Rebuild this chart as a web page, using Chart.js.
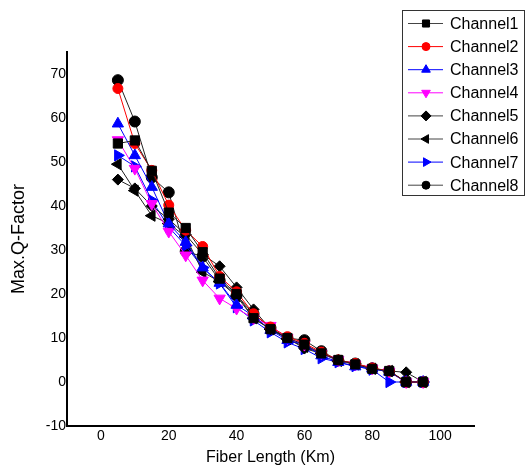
<!DOCTYPE html>
<html>
<head>
<meta charset="utf-8">
<script src="https://cdn.jsdelivr.net/npm/chart.js@4/dist/chart.umd.min.js"></script>
<style>
  html, body { margin: 0; padding: 0; background: #fff; }
  #wrap { width: 526px; height: 467px; }
</style>
</head>
<body>
<div id="wrap"><canvas id="c" width="526" height="467"></canvas></div>
<script>
const fiberLength = [5, 10, 15, 20, 25, 30, 35, 40, 45, 50, 55, 60, 65, 70, 75, 80, 85, 90, 95];
const channel1 = [54.2, 54.9, 48.0, 38.5, 35.0, 29.5, 23.5, 20.0, 14.5, 12.0, 10.0, 8.5, 6.5, 5.0, 4.0, 3.0, 2.5, 0.0, 0.0];
const channel2 = [66.7, 54.2, 48.1, 40.2, 34.5, 30.8, 24.0, 20.5, 15.5, 12.5, 10.3, 8.8, 6.8, 5.0, 4.2, 3.2, 2.5, 0.0, 0.0];
const channel3 = [58.7, 51.5, 44.3, 36.0, 31.8, 26.0, 22.5, 17.5, 15.0, 11.8, 9.5, 8.5, 6.0, 4.5, 3.5, 3.0, 2.3, 0.0, 0.0];
const channel4 = [55.0, 48.5, 40.5, 34.2, 28.8, 23.1, 19.0, 16.7, 14.5, 12.8, 10.0, 8.5, 6.5, 5.0, 4.0, 3.1, 2.4, 0.0, 0.0];
const channel5 = [46.0, 44.0, 40.0, 37.0, 33.5, 29.0, 26.3, 21.5, 16.5, 12.0, 10.0, 7.6, 6.5, 5.0, 4.2, 3.0, 2.5, 2.2, 0.0];
const channel6 = [49.5, 43.5, 37.8, 36.0, 33.0, 25.0, 22.8, 19.5, 14.5, 12.0, 9.8, 8.0, 6.5, 4.8, 4.0, 3.0, 2.5, 0.0, 0.0];
const channel7 = [51.5, 49.0, 41.3, 35.2, 31.0, 26.0, 22.4, 17.0, 14.0, 11.3, 9.0, 7.5, 5.4, 4.5, 3.6, 2.8, 0.0, 0.0, 0.0];
const channel8 = [68.6, 59.2, 46.5, 43.1, 29.7, 28.5, 23.1, 19.7, 15.5, 12.3, 10.0, 9.5, 7.0, 4.9, 4.2, 3.1, 2.4, 0.0, 0.0];
const seriesNames = ['Channel1','Channel2','Channel3','Channel4','Channel5','Channel6','Channel7','Channel8'];
const xTicks = [0, 20, 40, 60, 80, 100];
const yTicks = [-10, 0, 10, 20, 30, 40, 50, 60, 70];

const seriesData = [channel1, channel2, channel3, channel4, channel5, channel6, channel7, channel8];
const colors = ['#000000', '#ff0000', '#0000ff', '#ff00ff', '#000000', '#000000', '#0000ff', '#000000'];
const lineColors = ['#222222', '#ff0000', '#0000ff', '#ff00ff', '#222222', '#222222', '#0000ff', '#222222'];
const styles = ['rect', 'circle', 'triangle', 'triangle', 'rectRot', 'triangle', 'triangle', 'circle'];
const rotations = [0, 0, 0, 180, 0, -90, 90, 0];
const radii = [6.5, 5, 6.5, 6.5, 5.5, 6.5, 6.5, 5.5];

const datasets = seriesNames.map((name, i) => ({
  label: name,
  data: fiberLength.map((x, j) => ({x: x, y: seriesData[i][j]})),
  borderColor: lineColors[i],
  backgroundColor: colors[i],
  pointBackgroundColor: colors[i],
  pointBorderColor: colors[i],
  pointStyle: styles[i],
  pointRotation: rotations[i],
  pointRadius: radii[i],
  pointBorderWidth: 1,
  borderWidth: 1,
  tension: 0,
  fill: false
}));

const FONT = '"Liberation Sans", Arial, sans-serif';

const boxLegend = {
  id: 'boxLegend',
  afterDraw(chart) {
    const ctx = chart.ctx;
    const bx = 402.5, by = 10.5, bw = 122, bh = 185;
    ctx.save();
    ctx.fillStyle = '#fff';
    ctx.fillRect(bx, by, bw, bh);
    ctx.strokeStyle = '#333';
    ctx.lineWidth = 1;
    ctx.strokeRect(bx, by, bw, bh);
    ctx.font = '16px ' + FONT;
    ctx.textBaseline = 'middle';
    ctx.textAlign = 'left';
    chart.data.datasets.forEach((ds, i) => {
      const y = 23.5 + i * 23.1;
      ctx.strokeStyle = ds.borderColor === '#222222' ? '#444' : ds.borderColor;
      ctx.lineWidth = 1;
      ctx.beginPath();
      ctx.moveTo(408, y);
      ctx.lineTo(443, y);
      ctx.stroke();
      ctx.fillStyle = ds.pointBackgroundColor;
      ctx.strokeStyle = ds.pointBorderColor;
      Chart.helpers.drawPoint(ctx, {
        pointStyle: ds.pointStyle,
        rotation: ds.pointRotation,
        radius: ds.pointStyle === 'circle' ? 4 : 5,
        borderWidth: 1
      }, 426, y);
      ctx.fillStyle = '#000';
      ctx.fillText(ds.label, 450, y + 1);
    });
    ctx.restore();
  }
};

new Chart(document.getElementById('c'), {
  type: 'line',
  data: { datasets: datasets },
  options: {
    responsive: false,
    animation: false,
    layout: { padding: { top: 52, right: 52, left: 0, bottom: 0 } },
    plugins: { legend: { display: false }, tooltip: { enabled: false } },
    scales: {
      x: {
        type: 'linear',
        min: -10,
        max: 110,
        afterBuildTicks: (s) => { s.ticks = xTicks.map(v => ({value: v})); },
        afterFit: (s) => { s.height = 41; },
        grid: { display: false, drawTicks: false },
        border: { display: true, color: '#000', width: 2 },
        ticks: { color: '#000', padding: 2, font: { family: FONT, size: 14 }, maxRotation: 0 },
        title: { display: true, text: 'Fiber Length (Km)', color: '#000', font: { family: FONT, size: 16 }, padding: { top: 2, bottom: 0 } }
      },
      y: {
        type: 'linear',
        min: -10,
        max: 75,
        afterBuildTicks: (s) => { s.ticks = yTicks.map(v => ({value: v})); },
        afterFit: (s) => { s.width = 67; },
        grid: { display: false, drawTicks: false },
        border: { display: true, color: '#000', width: 2 },
        ticks: { color: '#000', padding: 1, font: { family: FONT, size: 14 } },
        title: { display: true, text: 'Max.Q-Factor', color: '#000', font: { family: FONT, size: 18 }, padding: { top: 8, bottom: 0 } }
      }
    }
  },
  plugins: [boxLegend]
});
</script>
</body>
</html>
